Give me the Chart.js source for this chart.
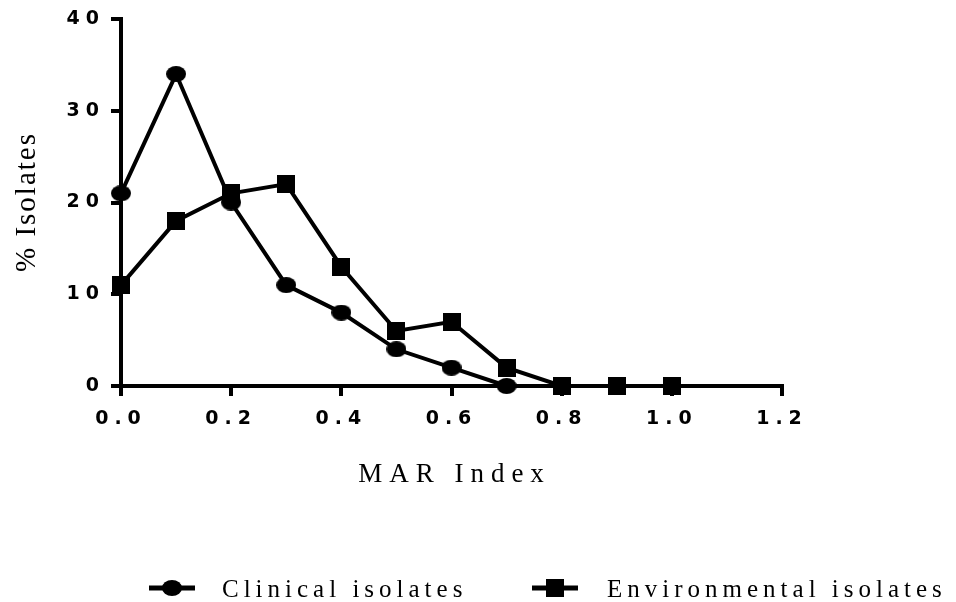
<!DOCTYPE html>
<html lang="en">
<head>
    <meta charset="UTF-8">
    <title>MAR Index distribution</title>
    <script src="https://cdn.jsdelivr.net/npm/chart.js"></script>
    <style>
        html, body { margin: 0; padding: 0; background: #fff; }
        #wrap { width: 956px; height: 602px; position: relative; }
    </style>
</head>
<body>
    <div id="wrap"><canvas id="marChart" width="956" height="602"></canvas></div>

    <script>
        // MAR index categories and % of isolates in each
        const marIndex = [0.0, 0.1, 0.2, 0.3, 0.4, 0.5, 0.6, 0.7, 0.8, 0.9, 1.0];
        const clinical = [21, 34, 20, 11, 8, 4, 2, 0];
        const environmental = [11, 18, 21, 22, 13, 6, 7, 2, 0, 0, 0];
        const xTicks = [0.0, 0.2, 0.4, 0.6, 0.8, 1.0, 1.2];
        const yTicks = [0, 10, 20, 30, 40];
        const seriesNames = ['Clinical isolates', 'Environmental isolates'];

        const toPoints = vals => vals.map((v, i) => ({ x: marIndex[i], y: v }));

        // marker images (slightly squashed circle, solid square)
        function makeMarker(kind, w, h) {
            const c = document.createElement('canvas');
            c.width = w; c.height = h;
            const g = c.getContext('2d');
            g.fillStyle = '#000';
            if (kind === 'circle') {
                g.beginPath();
                g.ellipse(w / 2, h / 2, w / 2, h / 2, 0, 0, Math.PI * 2);
                g.fill();
            } else {
                g.fillRect(0, 0, w, h);
            }
            return c;
        }
        const circleImg = makeMarker('circle', 20, 16);
        const squareImg = makeMarker('square', 18, 18);

        const serif = '"Liberation Serif", "Times New Roman", serif';

        // axis titles + legend drawn with letter spacing
        const decorations = {
            id: 'decorations',
            beforeDraw(chart) {
                chart.ctx.letterSpacing = '6px';
            },
            beforeDatasetsDraw(chart) {
                chart.ctx.letterSpacing = '0px';
            },
            afterDraw(chart) {
                const ctx = chart.ctx;
                const area = chart.chartArea;
                ctx.save();
                ctx.fillStyle = '#000';

                // y title
                ctx.save();
                ctx.translate(35, 203);
                ctx.rotate(-Math.PI / 2);
                ctx.font = '29px ' + serif;
                ctx.letterSpacing = '2px';
                ctx.textAlign = 'center';
                ctx.textBaseline = 'alphabetic';
                ctx.fillText('% Isolates', 1, 0);
                ctx.restore();

                // x title, centred under the axis
                ctx.font = '27px ' + serif;
                ctx.letterSpacing = '7px';
                ctx.textAlign = 'center';
                ctx.textBaseline = 'alphabetic';
                ctx.fillText('MAR Index', (area.left + area.right) / 2 + 3, 482);

                // legend
                const items = [
                    { img: circleImg, x0: 149, x1: 195, tx: 222 },
                    { img: squareImg, x0: 532, x1: 578, tx: 607 }
                ];
                const ly = 588;
                items.forEach((it, i) => {
                    ctx.lineWidth = 5;
                    ctx.strokeStyle = '#000';
                    ctx.beginPath();
                    ctx.moveTo(it.x0, ly);
                    ctx.lineTo(it.x1, ly);
                    ctx.stroke();
                    const cx = (it.x0 + it.x1) / 2;
                    ctx.drawImage(it.img, cx - it.img.width / 2, ly - it.img.height / 2);
                    ctx.font = '25px ' + serif;
                    ctx.letterSpacing = '5px';
                    ctx.textAlign = 'left';
                    ctx.fillText(seriesNames[i], it.tx, 597);
                });
                ctx.restore();
            }
        };

        const tickFont = { family: '"DejaVu Sans", sans-serif', size: 19, weight: 'bold' };

        new Chart(document.getElementById('marChart'), {
            type: 'scatter',
            data: {
                datasets: [
                    {
                        label: seriesNames[0],
                        data: toPoints(clinical),
                        showLine: true,
                        borderColor: '#000',
                        borderWidth: 4,
                        pointStyle: circleImg,
                        clip: false
                    },
                    {
                        label: seriesNames[1],
                        data: toPoints(environmental),
                        showLine: true,
                        borderColor: '#000',
                        borderWidth: 4,
                        pointStyle: squareImg,
                        clip: false
                    }
                ]
            },
            options: {
                responsive: false,
                animation: false,
                layout: { padding: { top: 19, right: 174, left: 0, bottom: 0 } },
                plugins: {
                    legend: { display: false },
                    tooltip: { enabled: false }
                },
                scales: {
                    x: {
                        type: 'linear',
                        min: 0,
                        max: 1.2,
                        afterFit: s => { s.height = 216; },
                        afterBuildTicks: s => { s.ticks = xTicks.map(v => ({ value: v })); },
                        ticks: {
                            color: '#000',
                            font: tickFont,
                            padding: 12,
                            maxRotation: 0,
                            callback: v => Number(v).toFixed(1)
                        },
                        grid: { drawOnChartArea: false, drawTicks: true, tickLength: 10, color: '#000', lineWidth: 4 },
                        border: { color: '#000', width: 4 }
                    },
                    y: {
                        min: 0,
                        max: 40,
                        afterFit: s => { s.width = 121; },
                        afterBuildTicks: s => { s.ticks = yTicks.map(v => ({ value: v })); },
                        ticks: {
                            color: '#000',
                            font: tickFont,
                            padding: 6
                        },
                        grid: { drawOnChartArea: false, drawTicks: true, tickLength: 10, color: '#000', lineWidth: 4 },
                        border: { color: '#000', width: 4 }
                    }
                }
            },
            plugins: [decorations]
        });
    </script>
</body>
</html>
